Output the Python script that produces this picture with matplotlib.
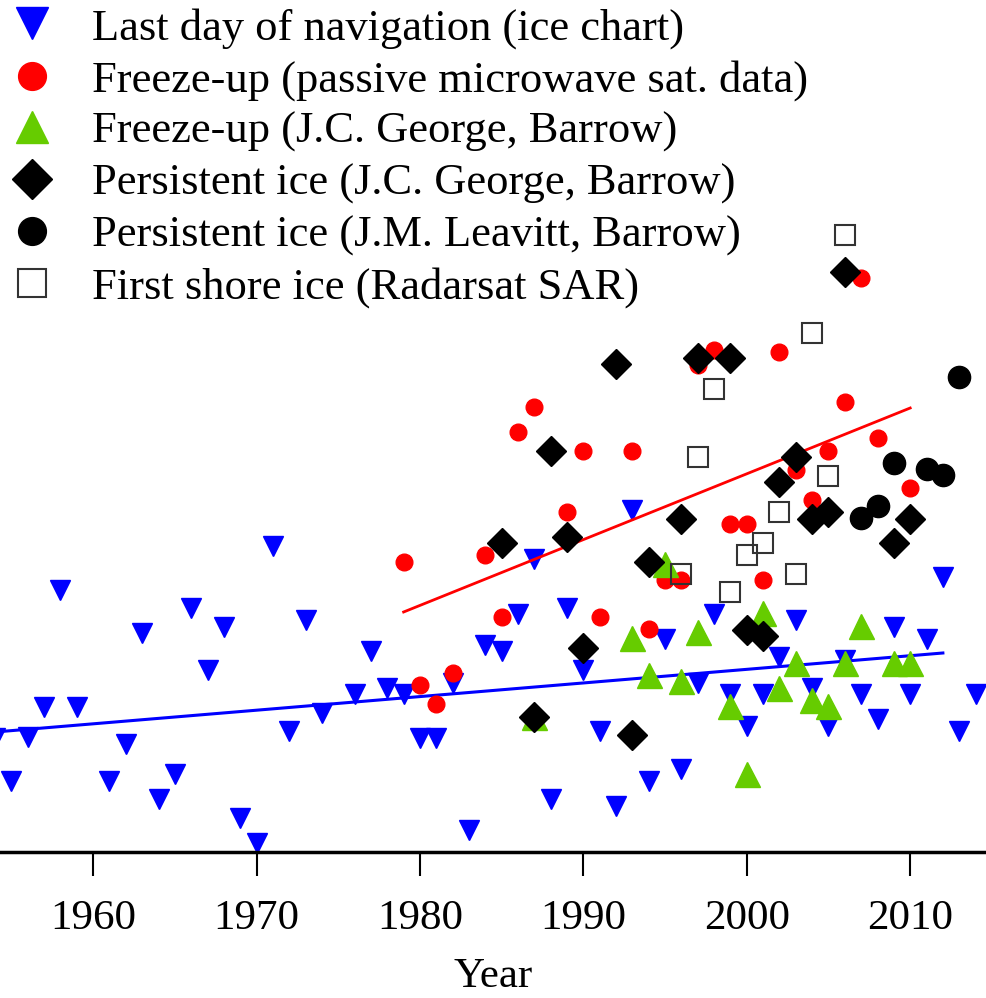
import numpy as np
import matplotlib
matplotlib.use("Agg")
import matplotlib.pyplot as plt

plt.rcParams["font.family"] = ["Liberation Serif", "DejaVu Serif"]

# Datos (altura relativa sobre el eje, unidades arbitrarias)
# ======================================================================================
nav_years = [1954, 1955, 1956, 1957, 1958, 1959, 1961, 1962, 1963, 1964, 1965, 1966,
             1967, 1968, 1969, 1970, 1971, 1972, 1973, 1974, 1976, 1977, 1978, 1979,
             1980, 1981, 1982, 1983, 1984, 1985, 1986, 1987, 1988, 1989, 1990, 1991,
             1992, 1993, 1994, 1995, 1996, 1997, 1998, 1999, 2000, 2001, 2002, 2003,
             2004, 2005, 2006, 2007, 2008, 2009, 2010, 2011, 2012, 2013, 2014]
nav_vals = [114, 71, 115, 145, 262, 145, 71, 108, 219, 53, 78, 244,
            182, 225, 34, 9, 306, 121, 232, 139, 158, 201, 164, 158,
            114, 114, 169, 22, 207, 201, 238, 293, 53, 244, 182, 121,
            46, 342, 71, 213, 83, 169, 238, 158, 126, 158, 195, 232,
            164, 126, 192, 158, 133, 225, 158, 213, 275, 121, 158]

pm_years = [1979, 1980, 1981, 1982, 1984, 1985, 1986, 1987, 1989, 1990, 1991, 1993,
            1994, 1995, 1996, 1997, 1998, 1999, 2000, 2001, 2002, 2003, 2004, 2005,
            2006, 2007, 2008, 2010]
pm_vals = [290, 167, 148, 179, 297, 235, 420, 445, 340, 401, 235, 401,
           223, 272, 272, 487, 502, 328, 328, 272, 500, 382, 352, 401,
           450, 574, 414, 364]

jcg_fu_years = [1987, 1993, 1994, 1995, 1996, 1997, 1999, 2000, 2001, 2002, 2003,
                2004, 2005, 2006, 2007, 2009, 2010]
jcg_fu_vals = [135, 214, 177, 288, 171, 220, 146, 78, 239, 164, 189,
               152, 146, 189, 226, 189, 189]

jcg_pi_years = [1985, 1987, 1988, 1989, 1990, 1992, 1993, 1994, 1996, 1997, 1999,
                2000, 2001, 2002, 2003, 2004, 2005, 2006, 2009, 2010]
jcg_pi_vals = [309, 135, 401, 315, 204, 488, 117, 290, 333, 494, 494,
               222, 216, 370, 395, 333, 340, 580, 309, 333]

jml_pi_years = [2007, 2008, 2009, 2011, 2012, 2013]
jml_pi_vals = [334, 346, 389, 383, 377, 475]

sar_years = [1996, 1997, 1998, 1999, 2000, 2001, 2002, 2003, 2004, 2005, 2006]
sar_vals = [278, 395, 463, 260, 297, 309, 340, 278, 519, 376, 617]

# Líneas de tendencia
nav_trend_years = [1954, 2012]
nav_trend_vals = [120, 199]
pm_trend_years = [1979, 2010]
pm_trend_vals = [240, 444]

# Gráfica
# ======================================================================================
fig = plt.figure(figsize=(9.87, 9.98), dpi=100)
ax = fig.add_axes([0, 0.1463, 1, 0.8537])

ax.plot(nav_years, nav_vals, "v", color="#0000ff", ms=15, ls="none",
        label="Last day of navigation (ice chart)")
ax.plot(nav_trend_years, nav_trend_vals, color="#0000ff", lw=2.2)
ax.plot(pm_years, pm_vals, "o", color="#ff0000", ms=12, ls="none",
        label="Freeze-up (passive microwave sat. data)")
ax.plot(pm_trend_years, pm_trend_vals, color="#ff0000", lw=2)
ax.plot(jcg_fu_years, jcg_fu_vals, "^", color="#66cc00", ms=18, ls="none",
        label="Freeze-up (J.C. George, Barrow)")
ax.plot(jcg_pi_years, jcg_pi_vals, "D", color="black", ms=15.5, ls="none",
        label="Persistent ice (J.C. George, Barrow)")
ax.plot(jml_pi_years, jml_pi_vals, "o", color="black", ms=16, ls="none",
        label="Persistent ice (J.M. Leavitt, Barrow)")
ax.plot(sar_years, sar_vals, "s", mfc="none", mec="#333333", mew=1.5, ms=15, ls="none",
        label="First shore ice (Radarsat SAR)")

ax.set_xlim(1954.3, 2014.7)
ax.set_ylim(0, 852)

for s in ["left", "right", "top"]:
    ax.spines[s].set_visible(False)
ax.spines["bottom"].set_linewidth(2.5)
ax.set_yticks([])
ax.set_xticks([1960, 1970, 1980, 1990, 2000, 2010])
ax.tick_params(axis="x", direction="out", length=17, width=1.5, pad=17, labelsize=31)
ax.set_xlabel("Year", fontsize=31, labelpad=14)

leg = ax.legend(loc="upper left", bbox_to_anchor=(-0.013, 1.012), frameon=False,
                fontsize=32, handlelength=1.2, handletextpad=0.75,
                labelspacing=0.25, borderaxespad=0)
# tamaños de los marcadores en la leyenda
for h, ms in zip(leg.legend_handles, [23.5, 20, 23.5, 20, 20, 19.5]):
    h.set_markersize(ms)

fig.savefig("out.png", dpi=100)
